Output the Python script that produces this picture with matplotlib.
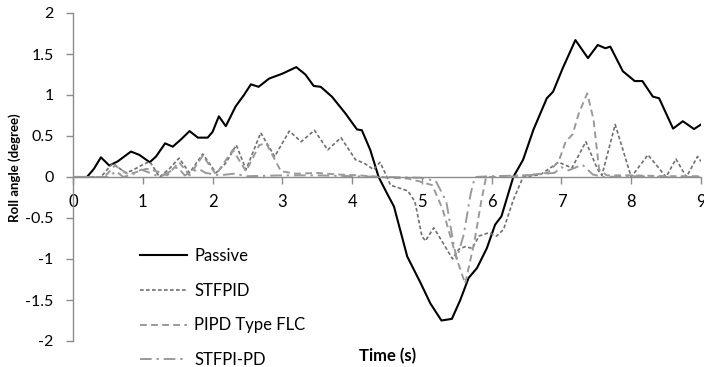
import matplotlib
matplotlib.use("Agg")
import matplotlib.pyplot as plt
from matplotlib.ticker import FuncFormatter

# ---------------- data ----------------
passive_t = [0, 0.2, 0.3, 0.4, 0.52, 0.64, 0.83, 0.95, 1.1, 1.19, 1.32, 1.43, 1.55, 1.67,
             1.79, 1.93, 2.0, 2.09, 2.19, 2.33, 2.45, 2.55, 2.66, 2.81, 3.0, 3.2, 3.33,
             3.45, 3.55, 3.71, 3.9, 4.07, 4.14, 4.26, 4.38, 4.5, 4.6, 4.79, 4.98, 5.12,
             5.28, 5.43, 5.55, 5.67, 5.79, 5.93, 6.05, 6.14, 6.31, 6.45, 6.6, 6.79, 6.88,
             7.02, 7.2, 7.38, 7.52, 7.63, 7.70, 7.88, 8.05, 8.16, 8.31, 8.40, 8.6, 8.74,
             8.9, 9.0]
passive_v = [0, 0, 0.1, 0.24, 0.14, 0.19, 0.31, 0.27, 0.18, 0.25, 0.41, 0.37, 0.46, 0.56,
             0.48, 0.48, 0.55, 0.74, 0.62, 0.86, 1.0, 1.13, 1.10, 1.20, 1.26, 1.34, 1.25,
             1.11, 1.10, 0.98, 0.78, 0.58, 0.57, 0.33, 0.0, -0.2, -0.36, -0.97, -1.29, -1.54,
             -1.75, -1.73, -1.5, -1.23, -1.11, -0.87, -0.58, -0.48, 0, 0.21, 0.58, 0.96, 1.04,
             1.33, 1.67, 1.45, 1.61, 1.57, 1.59, 1.29, 1.17, 1.17, 0.98, 0.96, 0.59, 0.68,
             0.585, 0.64]

stfpid_t = [0, 0.4, 0.57, 0.75, 0.85, 1.0, 1.1, 1.24, 1.38, 1.52, 1.67, 1.86, 2.05, 2.19,
            2.34, 2.48, 2.69, 2.89, 3.1, 3.27, 3.46, 3.65, 3.84, 4.05, 4.17, 4.31, 4.4,
            4.5, 4.55, 4.8, 4.9, 5.0, 5.05, 5.17, 5.3, 5.44, 5.53, 5.62, 5.72, 5.82, 5.96,
            6.07, 6.17, 6.31, 6.45, 6.7, 6.96, 7.15, 7.35, 7.52, 7.58, 7.77, 8.0, 8.24,
            8.5, 8.64, 8.79, 8.95, 9.0]
stfpid_v = [0, 0, 0.17, 0.05, 0.08, 0.15, 0.19, 0.0, 0.1, 0.23, 0.05, 0.28, 0.05, 0.17,
            0.39, 0.09, 0.54, 0.25, 0.56, 0.43, 0.57, 0.33, 0.48, 0.21, 0.17, 0.09, 0.18,
            0.0, -0.1, -0.17, -0.3, -0.72, -0.78, -0.62, -0.8, -1.0, -0.88, -0.85, -0.87,
            -0.72, -0.68, -0.72, -0.64, -0.28, 0.0, 0.03, 0.18, 0.11, 0.43, 0.09, 0.02,
            0.64, 0.0, 0.27, 0.0, 0.22, 0.0, 0.25, 0.19]

pipd_t = [0, 0.45, 0.6, 0.8, 1.05, 1.2, 1.35, 1.52, 1.67, 1.86, 2.05, 2.29, 2.48, 2.67,
          2.77, 2.98, 3.2, 3.5, 3.8, 4.1, 4.4, 4.8, 4.95, 5.15, 5.3, 5.5, 5.62, 5.75, 5.85,
          5.92, 6.2, 6.5, 6.8, 6.96, 7.06, 7.16, 7.25, 7.37, 7.46, 7.54, 7.65, 8.0, 8.5, 9.0]
pipd_v = [0, 0, 0.14, 0.03, 0.1, 0.07, 0.02, 0.18, 0.02, 0.26, 0.03, 0.33, 0.07, 0.39,
          0.41, 0.07, 0.04, 0.05, 0.03, 0.02, 0.0, -0.02, -0.05, -0.1, -0.4, -1.0, -1.3,
          -0.8, -0.3, 0, 0.0, 0.02, 0.05, 0.19, 0.43, 0.52, 0.78, 1.02, 0.7, 0.09, 0.02,
          0.02, 0.01, 0.01]

stfpipd_t = [0, 0.5, 0.62, 0.72, 0.85, 0.98, 1.1, 1.25, 1.5, 1.6, 1.8, 1.9, 2.1, 2.3, 2.5,
             3.0, 3.5, 4.0, 4.5, 5.0, 5.2, 5.35, 5.45, 5.5, 5.6, 5.7, 5.76, 6.0, 6.5, 6.9,
             7.0, 7.1, 7.3, 7.45, 7.6, 8.0, 8.5, 9.0]
stfpipd_v = [0, 0, 0.07, 0.0, 0.03, 0.09, 0.05, 0.0, 0.12, 0.02, 0.1, 0.05, 0.02, 0.04,
             0.01, 0.02, 0.02, 0.01, 0.0, -0.01, -0.05, -0.3, -0.8, -1.0, -0.7, -0.2, 0.0,
             0.01, 0.02, 0.05, 0.12, 0.08, 0.15, 0.03, 0.0, 0.01, 0.0, 0.0]

labels = ["Passive", "STFPID", "PIPD Type FLC", "STFPI-PD"]
x_ticks = [0, 1, 2, 3, 4, 5, 6, 7, 8, 9]
y_ticks = [-2, -1.5, -1, -0.5, 0, 0.5, 1, 1.5, 2]

# ---------------- figure ----------------
plt.rcParams['font.family'] = ['Lato', 'DejaVu Sans']
fig = plt.figure(figsize=(7.04, 3.67), dpi=100)
ax = fig.add_axes([73/704, 1-341/367, (701-73)/704, (341-13)/367])

l1, = ax.plot(passive_t, passive_v, color='black', lw=1.5, label=labels[0])
l2, = ax.plot(stfpid_t, stfpid_v, color='#707070', lw=1.2, linestyle=(0, (2.2, 1.4)), label=labels[1])
l3, = ax.plot(pipd_t, pipd_v, color='#9a9a9a', lw=1.4, linestyle=(0, (3.5, 2.2)), label=labels[2])
l4, = ax.plot(stfpipd_t, stfpipd_v, color='#9a9a9a', lw=1.4, linestyle=(0, (6, 2.5, 1.2, 2.5)), label=labels[3])

ax.set_xlim(0, 9)
ax.set_ylim(-2, 2)
ax.set_xticks(x_ticks)
ax.set_yticks(y_ticks)
ax.yaxis.set_major_formatter(FuncFormatter(lambda v, p: ('%g' % v)))
ax.spines['top'].set_visible(False)
ax.spines['right'].set_visible(False)
ax.spines['bottom'].set_position(('data', 0))
for s in ('left', 'bottom'):
    ax.spines[s].set_color('#8c8c8c')
    ax.spines[s].set_linewidth(1.0)
ax.tick_params(axis='x', direction='out', length=5, width=1, color='#8c8c8c',
               labelsize=12, pad=7)
ax.tick_params(axis='y', direction='out', length=5, width=1, color='#8c8c8c',
               labelsize=11.5, pad=9)

fig.text(15/704, 1-168/367, 'Roll angle (degree)', rotation=90, ha='center', va='center',
         fontsize=9.5, fontweight='bold')
fig.text(388/704, 1-356/367, 'Time (s)', ha='center', va='center', fontsize=12,
         fontweight='bold')

fig.legend(handles=[l1, l2, l3, l4], labels=labels, loc='upper left',
           bbox_to_anchor=(140/704, 1-248/367), frameon=False, fontsize=12,
           handlelength=2.8, handletextpad=0.45, labelspacing=1.12, borderpad=0,
           borderaxespad=0)

fig.savefig('out.png', dpi=100)
